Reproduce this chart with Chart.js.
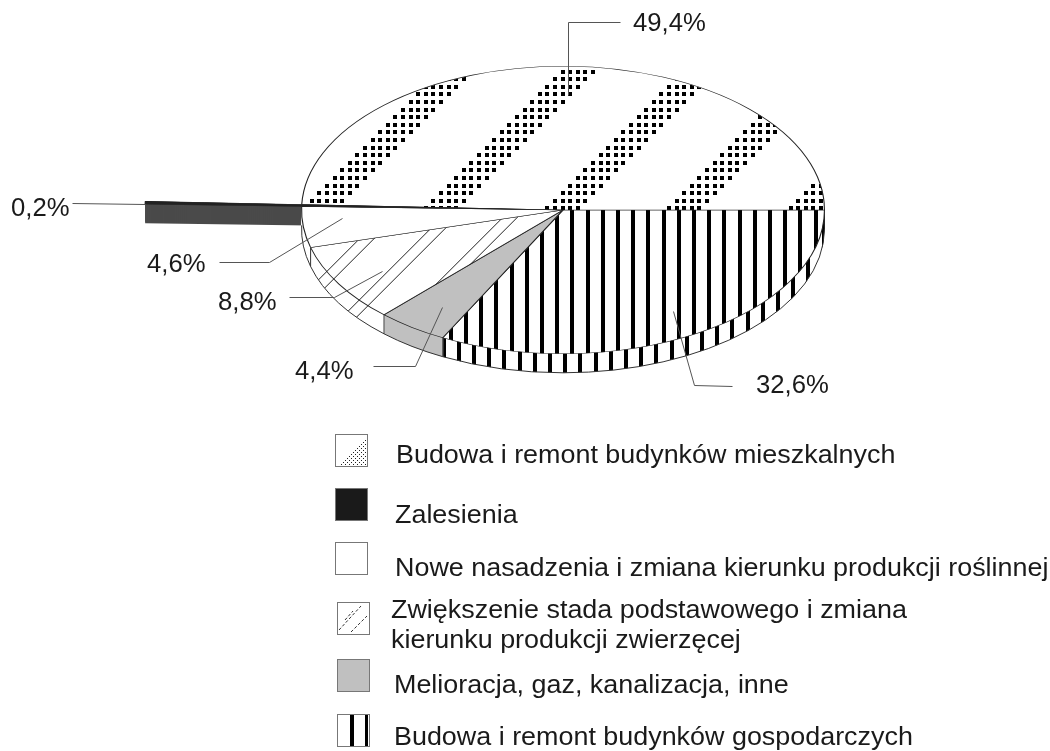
<!DOCTYPE html>
<html><head><meta charset="utf-8">
<style>html,body{margin:0;padding:0;background:#fff}canvas{display:block}</style>
<script src="https://cdn.jsdelivr.net/npm/chart.js@4"></script>
</head><body><canvas id="c" width="1050" height="751"></canvas>
<script>
// clockwise from the east
const categories = [
  "Budowa i remont budynków gospodarczych",
  "Melioracja, gaz, kanalizacja, inne",
  "Zwiększenie stada podstawowego i zmiana kierunku produkcji zwierzęcej",
  "Nowe nasadzenia i zmiana kierunku produkcji roślinnej",
  "Zalesienia",
  "Budowa i remont budynków mieszkalnych"
];
const values = [32.6, 4.4, 8.8, 4.6, 0.2, 49.4];
const valueLabels = ["32,6%", "4,4%", "8,8%", "4,6%", "0,2%", "49,4%"];
const labelAnchors = [[756,393],[295,379],[218,310],[147,272],[11,216],[633,31]];
const leaders = [
  [[673,311],[694,385],[732,386]],
  [[442,307],[415,366],[373,366]],
  [[382,271],[334,297],[289,297]],
  [[342,218],[269,262],[219,262]],
  [[145,204],[72,203]],
  [[568,95],[568,22],[620,22]]
];
const legendRows = [
  {i:5, box:[335,434], lines:[[396,463,"Budowa i remont budynków mieszkalnych"]]},
  {i:4, box:[335,488], lines:[[395,523,"Zalesienia"]]},
  {i:3, box:[335,542], lines:[[395,576,"Nowe nasadzenia i zmiana kierunku produkcji roślinnej"]]},
  {i:2, box:[337,602], lines:[[391,618,"Zwiększenie stada podstawowego i zmiana"],[391,648,"kierunku produkcji zwierzęcej"]]},
  {i:1, box:[337,659], lines:[[394,693,"Melioracja, gaz, kanalizacja, inne"]]},
  {i:0, box:[337,714], lines:[[394,745,"Budowa i remont budynków gospodarczych"]]}
];
const CX=563, CY=210, SQUASH=0.55, DEPTH=19, DARK_RADIUS=418;

function tile(w,h,draw){const t=document.createElement('canvas');t.width=w;t.height=h;const g=t.getContext('2d');g.fillStyle='#fff';g.fillRect(0,0,w,h);draw(g);return g.createPattern(t,'repeat');}
function stripes(x0){return tile(152,4,g=>{g.fillStyle='#000';for(let k=0;k<10;k++){const x=(x0+15.2*k)%152;g.fillRect(Math.round(x-2),0,4,4);if(x-2<0)g.fillRect(152+Math.round(x-2),0,4,4);}});}
const dots=tile(608,608,g=>{g.fillStyle='#000';const ax=309.7,ay=198.7,p=7.6;
  for(let c=0;c<80;c++)for(let r=0;r<80;r++){if((c+r)%16<5){
    const x=Math.round((ax+c*p)%608),y=Math.round((ay+r*p)%608);
    for(const dx of [0,-608])for(const dy of [0,-608])g.fillRect(x+dx,y+dy,4,4);}}});
const hatch=tile(61,61,g=>{g.strokeStyle='#222';g.lineWidth=1;
  for(const s of [49.3,2.7])for(const k of [-61,0,61,122]){g.beginPath();g.moveTo(s+k,0);g.lineTo(s+k-61,61);g.stroke();}});
const topFills=[stripes(572.3),'#c0c0c0',hatch,'#ffffff','#222222',dots];
const wallFills=[stripes(565.2),'#c0c0c0',hatch,'#ffffff','#4a4a4a','#ffffff'];
const anchor=(f,ctx)=>{if(f instanceof CanvasPattern)f.setTransform(ctx.getTransform().inverse());};
function stretched(ctx,t,x,y,sx){ctx.save();ctx.translate(x,y);ctx.scale(sx,1);ctx.fillText(t,0,0);ctx.restore();}

const pie3d={id:'pie3d',
  beforeDatasetsDraw(chart){
    const ctx=chart.ctx, arcs=chart.getDatasetMeta(0).data;
    const o=arcs[0];
    ctx.save();
    ctx.translate(CX,CY);ctx.scale(1,SQUASH);ctx.translate(-o.x,-o.y);
    const base=ctx.getTransform();
    const R=o.outerRadius;
    arcs[4].outerRadius=DARK_RADIUS;
    const wall=(el,f)=>{const keep=el.options;el.options=Object.assign({},keep,{backgroundColor:f,borderWidth:0});
      for(let d=DEPTH;d>=0;d--){ctx.setTransform(base.a,base.b,base.c,base.d,base.e,base.f+d);anchor(f,ctx);el.draw(ctx);}
      el.options=keep;};
    // back to front: the side wall of each slice is swept straight down
    for(let i=arcs.length-1;i>=0;i--)wall(arcs[i],wallFills[i]);
    // bottom rim and vertical edges of the wall
    ctx.setTransform(1,0,0,1,0,0);
    ctx.strokeStyle='#333';ctx.lineWidth=1;
    arcs.forEach((el,i)=>{if(i===4||i===5)return;
      ctx.beginPath();
      ctx.ellipse(CX,CY+DEPTH,R,R*SQUASH,0,el.startAngle,el.endAngle);ctx.stroke();
      if(i<3){const a=el.endAngle,x=CX+R*Math.cos(a),y=CY+R*SQUASH*Math.sin(a);
      ctx.beginPath();ctx.moveTo(x,y);ctx.lineTo(x,y+DEPTH);ctx.stroke();}});
    // top faces
    ctx.setTransform(base);
    arcs.forEach((el,i)=>{if(i!==4){anchor(topFills[i],ctx);el.draw(ctx);}});
    arcs[4].draw(ctx);
    ctx.restore();
    return false;
  },
  afterDraw(chart){
    const ctx=chart.ctx;
    ctx.save();
    ctx.strokeStyle='#555';ctx.lineWidth=1;
    leaders.forEach(l=>{ctx.beginPath();l.forEach((p,i)=>i?ctx.lineTo(p[0]+.5,p[1]+.5):ctx.moveTo(p[0]+.5,p[1]+.5));ctx.stroke();});
    ctx.fillStyle='#1a1a1a';ctx.textBaseline='alphabetic';
    ctx.font='25.7px "Liberation Sans"';
    valueLabels.forEach((t,i)=>ctx.fillText(t,labelAnchors[i][0],labelAnchors[i][1]));
    ctx.font='25px "Liberation Sans"';
    legendRows.forEach(row=>{
      const [x,y]=row.box,s=32;
      row.lines.forEach(l=>stretched(ctx,l[2],l[0],l[1],1.076));
      ctx.save();
      ctx.fillStyle=['#fff','#c0c0c0','#fff','#fff','#1a1a1a','#fff'][row.i];
      ctx.fillRect(x,y,s,s);
      if(row.i===5){ctx.fillStyle='#222';
        for(let c=0;c<16;c++)for(let r=0;r<16;r++){if(c+r>=17&&(c+r)%2===0)ctx.fillRect(x+c*2,y+r*2,1,1);} }
      if(row.i===2){ctx.strokeStyle='#333';ctx.setLineDash([3,2]);
        [[2,28,24,4],[14,30,30,14],[8,18,16,9]].forEach(q=>{ctx.beginPath();ctx.moveTo(x+q[0],y+q[1]);ctx.lineTo(x+q[2],y+q[3]);ctx.stroke();});ctx.setLineDash([]);}
      if(row.i===0){ctx.fillStyle='#000';ctx.fillRect(x+13,y,4,s);ctx.fillRect(x+28,y,3,s);}
      ctx.strokeStyle='#777';ctx.lineWidth=1;ctx.strokeRect(x+.5,y+.5,s,s);
      ctx.restore();
    });
    ctx.restore();
  }
};

new Chart(document.getElementById('c'),{
  type:'pie',
  data:{labels:categories,datasets:[{data:values,backgroundColor:topFills,borderColor:'#222',borderWidth:1.1,hoverOffset:0}]},
  options:{responsive:false,animation:false,rotation:90,
    layout:{padding:{left:301,right:225,top:0,bottom:227}},
    plugins:{legend:{display:false},tooltip:{enabled:false}},events:[]},
  plugins:[pie3d]
});
</script></body></html>
